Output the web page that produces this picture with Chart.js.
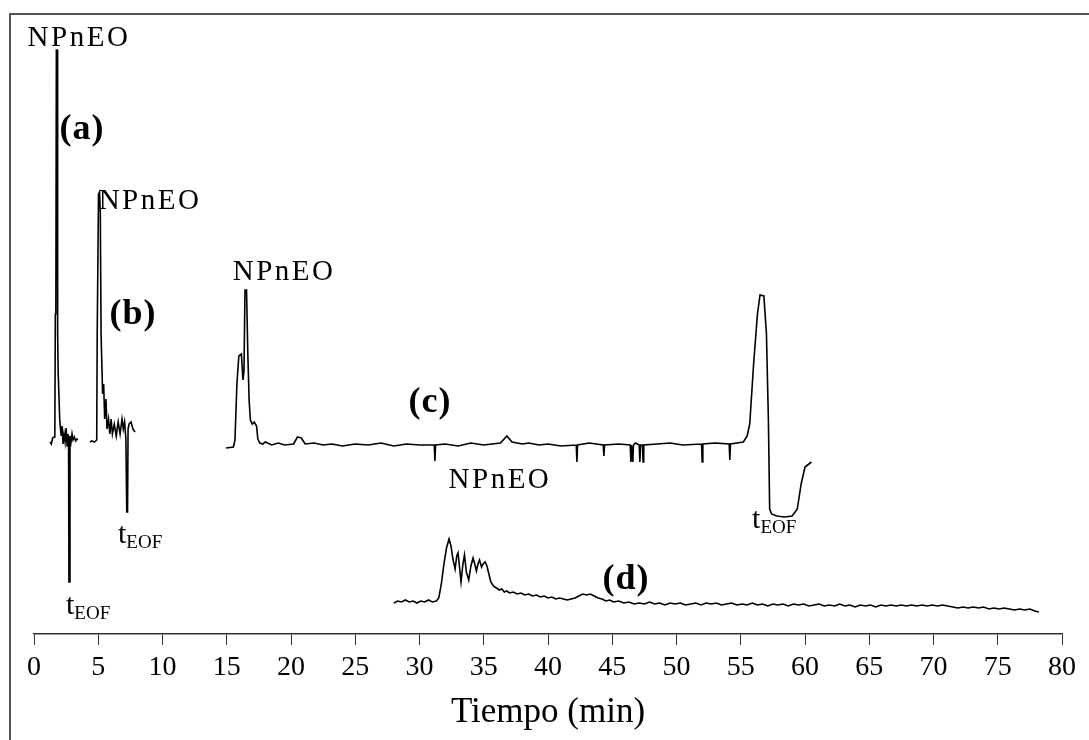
<!DOCTYPE html>
<html>
<head>
<meta charset="utf-8">
<script src="https://cdn.jsdelivr.net/npm/chart.js@4.4.1/dist/chart.umd.min.js"></script>
<style>
  html, body { margin: 0; padding: 0; background: #fff; overflow: hidden; }
  #wrap { position: relative; width: 1089px; height: 740px; }
  #frame { position: absolute; left: 9px; top: 13px; width: 1200px; height: 800px;
           border: 2px solid #555; box-sizing: border-box; pointer-events: none; }
  canvas { position: absolute; left: 0; top: 0; }
</style>
</head>
<body>
<div id="wrap">
  <div id="frame"></div>
  <canvas id="chart" width="1089" height="740"></canvas>
</div>
<script>
// x axis ticks (min)
const xTicks = [0, 5, 10, 15, 20, 25, 30, 35, 40, 45, 50, 55, 60, 65, 70, 75, 80];

// trace (a)
const timeA = [1.25, 1.35, 1.45, 1.55, 1.62, 1.66, 1.70, 1.74, 1.80, 1.84, 1.88, 1.94, 2.00, 2.06, 2.12, 2.18,
  2.26, 2.34, 2.42, 2.50, 2.58, 2.64, 2.69, 2.72, 2.76, 2.80, 2.88, 2.96, 3.04, 3.14, 3.24, 3.34, 3.42];
const signalA = [192, 190, 196, 197, 197, 320, 322, 584, 584, 300, 262, 262, 215, 205, 198, 208,
  190, 200, 192, 206, 188, 200, 196, 52, 52, 198, 192, 200, 194, 197, 193, 195, 194];

// trace (b)
const timeB = [4.36, 4.50, 4.70, 4.88, 4.92, 4.98, 5.02, 5.10, 5.16, 5.22, 5.28, 5.34, 5.42, 5.50, 5.60, 5.68,
  5.80, 5.90, 6.00, 6.10, 6.25, 6.40, 6.55, 6.70, 6.85, 6.95, 7.05, 7.15, 7.22, 7.28, 7.32, 7.40, 7.55, 7.70, 7.86];
const signalB = [192, 193, 192, 194, 300, 300, 440, 442, 420, 300, 300, 240, 250, 215, 235, 205,
  215, 200, 215, 200, 210, 198, 212, 200, 215, 205, 212, 195, 122, 122, 205, 210, 212, 205, 202];

// trace (c)
const timeC = [14.94, 15.52, 15.64, 15.79, 15.94, 16.14, 16.26, 16.34, 16.42, 16.54, 16.64, 16.74, 16.84, 16.99, 17.14,
  17.32, 17.42, 17.57, 17.80, 18.0, 18.5, 19.0, 19.5, 20.2, 20.5, 20.8, 21.1, 21.8, 22.5, 23.2, 24.0, 25.0, 26.0,
  27.0, 28.0, 29.0, 30.0, 31.15, 31.20, 31.25, 32.0, 33.0, 34.0, 35.0, 36.3, 36.8, 37.2, 38.0, 38.5, 39.3, 40.0,
  41.0, 42.2, 42.25, 42.3, 43.2, 44.3, 44.35, 44.4, 45.5, 46.4, 46.45, 46.5, 46.6, 46.65, 46.8, 47.1, 47.15, 47.2,
  47.35, 47.4, 47.45, 48.5, 49.5, 50.5, 51.95, 52.0, 52.05, 53.0, 54.1, 54.15, 54.2, 55.2, 55.5, 55.7, 56.0, 56.3,
  56.5, 56.8, 57.0, 57.15, 57.25, 57.4, 57.8, 58.4, 59.0, 59.4, 59.7, 60.0, 60.5];
const signalC = [186, 187, 194, 250, 278, 280, 254, 262, 344, 344, 280, 234, 214, 210, 212,
  208, 195, 191, 190, 192, 189, 191, 189, 190, 197, 196, 190, 191, 189, 190, 188, 190, 189,
  191, 188, 190, 189, 189, 173, 189, 190, 188, 191, 189, 191, 198, 192, 190, 191, 189, 190,
  188, 189, 172, 189, 191, 189, 178, 189, 190, 189, 172, 189, 172, 189, 191, 189, 172, 189,
  189, 172, 189, 190, 191, 189, 190, 172, 190, 191, 190, 174, 190, 192, 198, 210, 270, 320,
  339, 338, 300, 215, 125, 120, 118, 117, 118, 125, 150, 167, 172];

// trace (d)
const timeD = [28.0, 28.3, 28.6, 28.9, 29.2, 29.5, 29.8, 30.1, 30.4, 30.7, 31.0, 31.3,
  31.5, 31.7, 31.9, 32.1, 32.3, 32.45, 32.6, 32.77, 32.9, 33.0, 33.12, 33.23, 33.38, 33.5, 33.65,
  33.83, 34.0, 34.17, 34.3, 34.43, 34.55, 34.67, 34.83, 34.95, 35.1, 35.25, 35.4, 35.55, 35.7,
  35.85, 36.0, 36.2, 36.4, 36.6, 36.8, 37.0, 37.3, 37.6, 37.9, 38.2, 38.5, 38.8, 39.1, 39.4, 39.7,
  40.0, 40.3, 40.6, 40.9, 41.2, 41.5, 41.8, 42.1, 42.4, 42.7, 43.0, 43.3, 43.6, 43.9, 44.2, 44.5,
  44.8, 45.1, 45.5, 45.9, 46.3, 46.7, 47.1, 47.5, 47.9, 48.3, 48.7, 49.1, 49.5, 49.9, 50.3, 50.7,
  51.1, 51.5, 51.9, 52.3, 52.7, 53.1, 53.5, 53.9, 54.3, 54.7, 55.1, 55.5, 55.9, 56.3, 56.7, 57.1,
  57.5, 57.9, 58.3, 58.7, 59.1, 59.5, 59.9, 60.3, 60.7, 61.1, 61.5, 61.9, 62.3, 62.7, 63.1, 63.5,
  63.9, 64.3, 64.7, 65.1, 65.5, 65.9, 66.3, 66.7, 67.1, 67.5, 67.9, 68.3, 68.7, 69.1, 69.5, 69.9,
  70.3, 70.7, 71.1, 71.5, 71.9, 72.3, 72.7, 73.1, 73.5, 73.9, 74.3, 74.7, 75.1, 75.5, 75.9, 76.3,
  76.7, 77.1, 77.5, 77.9, 78.2];
const signalD = [31, 33, 32, 34, 32, 33, 31, 33, 32, 34, 32, 33,
  36, 50, 70, 86, 95, 88, 75, 65, 78, 81, 66, 52, 70, 79, 62,
  54, 68, 76, 70, 63, 70, 74, 67, 70, 72, 68, 60, 52, 49,
  47, 46, 44, 45, 42, 43, 41, 42, 40, 41, 39, 40, 38, 39, 37, 38,
  36, 37, 35, 36, 35, 34, 35, 36, 38, 40, 39, 40, 38, 36, 35, 33,
  34, 32, 33, 31, 32, 30, 31, 30, 32, 30, 31, 29, 31, 30, 31, 29,
  30, 31, 29, 31, 30, 31, 29, 30, 31, 29, 30, 29, 31, 29, 30, 28,
  30, 29, 30, 28, 30, 29, 30, 28, 29, 30, 28, 29, 28, 30, 28, 29,
  27, 29, 28, 29, 27, 29, 28, 29, 28, 29, 28, 29, 28, 29, 28, 29,
  28, 29, 28, 27, 26, 27, 26, 27, 26, 27, 25, 26, 25, 26, 25, 24,
  25, 24, 25, 23, 22];

const toPoints = (t, s) => t.map((v, i) => ({ x: v, y: s[i] }));

const traceStyle = { borderColor: "#000", borderWidth: 1.6, pointRadius: 0, tension: 0, fill: false };

// text annotations, anchored in data units
const notes = [
  { text: "NPnEO", x: 3.5, y: 596 },
  { text: "NPnEO", x: 9.03, y: 433 },
  { text: "NPnEO", x: 19.46, y: 362 },
  { text: "NPnEO", x: 36.26, y: 154 },
  { text: "(a)", x: 3.74, y: 504, bold: true },
  { text: "(b)", x: 7.7, y: 319, bold: true },
  { text: "(c)", x: 30.82, y: 231, bold: true },
  { text: "(d)", x: 46.07, y: 54, bold: true },
];
const eofNotes = [
  { x: 2.49, y: 28 },
  { x: 6.54, y: 99 },
  { x: 55.88, y: 114 },
];

const textPlugin = {
  id: "notes",
  afterDraw(chart) {
    const ctx = chart.ctx;
    const xs = chart.scales.x;
    const ys = chart.scales.y;
    ctx.save();
    ctx.fillStyle = "#000";
    ctx.textBaseline = "middle";
    notes.forEach((n) => {
      ctx.textAlign = "center";
      if (n.bold) {
        ctx.font = 'bold 36px "Liberation Serif"';
        ctx.letterSpacing = "1px";
      } else {
        ctx.font = '29px "Liberation Serif"';
        ctx.letterSpacing = "2.5px";
      }
      ctx.fillText(n.text, xs.getPixelForValue(n.x), ys.getPixelForValue(n.y));
    });
    ctx.letterSpacing = "0px";
    eofNotes.forEach((n) => {
      const px = xs.getPixelForValue(n.x);
      const py = ys.getPixelForValue(n.y);
      ctx.textAlign = "left";
      ctx.font = '30px "Liberation Serif"';
      ctx.fillText("t", px, py);
      const w = ctx.measureText("t").width;
      ctx.font = '19px "Liberation Serif"';
      ctx.fillText("EOF", px + w, py + 8);
    });
    ctx.restore();
  },
};

const ctx = document.getElementById("chart").getContext("2d");
new Chart(ctx, {
  type: "line",
  data: {
    datasets: [
      { label: "(a)", data: toPoints(timeA, signalA), ...traceStyle },
      { label: "(b)", data: toPoints(timeB, signalB), ...traceStyle },
      { label: "(c)", data: toPoints(timeC, signalC), ...traceStyle },
      { label: "(d)", data: toPoints(timeD, signalD), ...traceStyle },
    ],
  },
  options: {
    responsive: false,
    animation: false,
    layout: { padding: { top: 14, left: 34, right: 27, bottom: 0 } },
    plugins: { legend: { display: false }, tooltip: { enabled: false } },
    scales: {
      x: {
        type: "linear",
        min: 0,
        max: 80,
        afterBuildTicks: (s) => { s.ticks = xTicks.map((v) => ({ value: v })); },
        afterFit: (s) => { s.height = 106; },
        grid: { drawOnChartArea: false, drawTicks: true, tickLength: 11, color: "#333", lineWidth: 1 },
        border: { display: true, color: "#333", width: 1.5 },
        ticks: { color: "#000", padding: 6, maxRotation: 0, autoSkip: false,
                 font: { family: "Liberation Serif", size: 28 } },
        title: {
          display: true,
          text: "Tiempo (min)",
          color: "#000",
          font: { family: "Liberation Serif", size: 35 },
          padding: { top: 0, bottom: 6 },
        },
      },
      y: { display: false, min: 0, max: 620 },
    },
  },
  plugins: [textPlugin],
});
</script>
</body>
</html>
